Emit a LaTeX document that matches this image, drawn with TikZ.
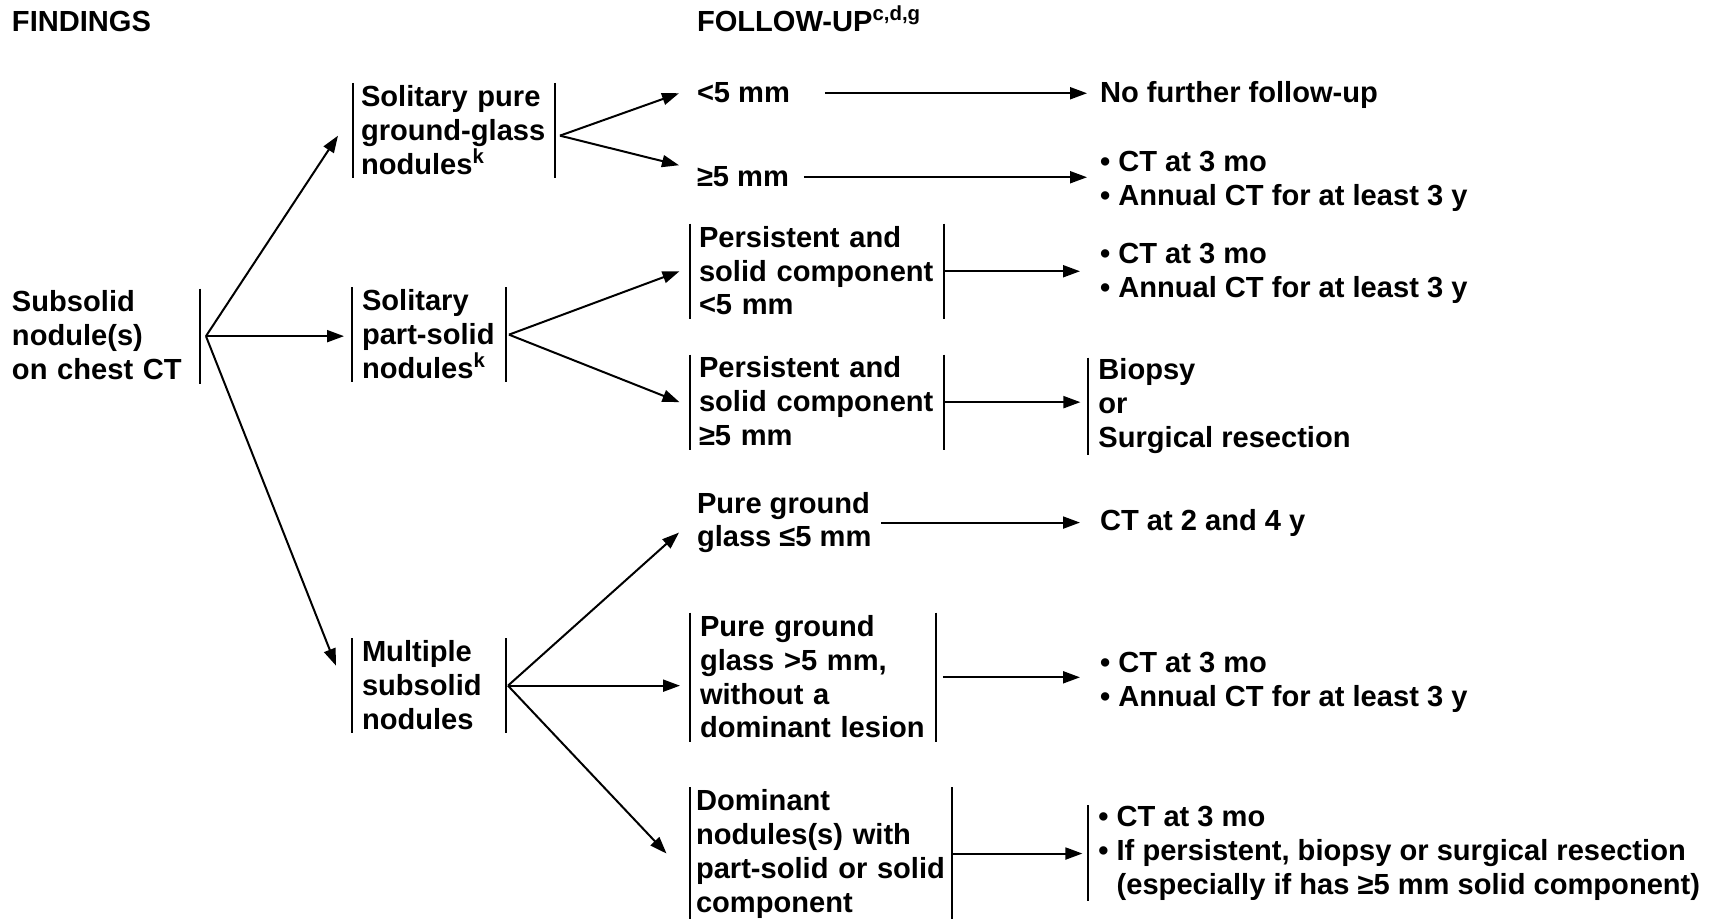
\documentclass[tikz,border=0pt]{standalone}
\usepackage{fontspec}
\setmainfont{Liberation Sans}
\usetikzlibrary{arrows.meta,calc}
\hyphenpenalty=10000
\newcommand\upstrut{\rule{0pt}{0.45cm}}
\newcommand\dnstrut{\rule[-0.06cm]{0pt}{0.06cm}}
\tikzset{
  txt/.style={align=left, anchor=north west, inner xsep=0.18cm, inner ysep=0pt,
    font=\fontsize{16.56pt}{19.3pt}\selectfont\bfseries,
    execute at begin node=\upstrut, execute at end node=\dnstrut},
  lbar/.style={append after command={(\tikzlastnode.north west) edge (\tikzlastnode.south west)}},
  rbar/.style={append after command={(\tikzlastnode.north east) edge (\tikzlastnode.south east)}},
  bars/.style={lbar,rbar},
  arr/.style={-{Triangle[length=0.34cm,width=0.24cm]}},
}
\begin{document}
\begin{tikzpicture}[x=0.02cm, y=-0.02cm, line width=0.04cm]
\useasboundingbox (0,0) rectangle (1710,919);
% column heads
\node[txt, anchor=base west] (find) at (2,32) {FINDINGS};
\node[txt, anchor=base west] (follow) at (687,32) {FOLLOW-UP\textsuperscript{c,d,g}};
% findings
\node[txt, rbar, text width=3.57cm] (sub) at (2,288.5) {Subsolid\\nodule(s)\\on chest CT};
\node[txt, bars, text width=3.72cm, inner xsep=0.14cm] (solpure) at (353,83) {Solitary pure\\ground-glass\\nodules\textsuperscript{k}};
\node[txt, bars, text width=2.68cm] (solpart) at (352,287) {Solitary\\part-solid\\nodules\textsuperscript{k}};
\node[txt, bars, text width=2.68cm] (mult) at (352,638) {Multiple\\subsolid\\nodules};
% sizes
\node[txt] (lt5) at (687,79.5) {<5 mm};
\node[txt] (ge5) at (687,163.5) {≥5 mm};
\node[txt, bars, text width=4.72cm, inner xsep=0.16cm] (pers1) at (690,223.6) {Persistent and\\solid component\\<5 mm};
\node[txt, bars, text width=4.72cm, inner xsep=0.16cm] (pers2) at (690,354.5) {Persistent and\\solid component\\≥5 mm};
\node[txt] (pg1) at (687,491) {Pure ground\\glass ≤5 mm};
\node[txt, bars, text width=4.52cm] (pg2) at (690,612.7) {Pure ground\\glass >5 mm,\\without a\\dominant lesion};
\node[txt, bars, text width=5cm, inner xsep=0.1cm] (dom) at (690,787.4) {Dominant\\nodules(s) with\\part-solid or solid\\component};
% follow-up
\node[txt] (nofu) at (1090,79.5) {No further follow-up};
\node[txt] (ct1) at (1090,150) {• CT at 3 mo\\• Annual CT for at least 3 y};
\node[txt] (ct2) at (1090,242.5) {• CT at 3 mo\\• Annual CT for at least 3 y};
\node[txt, lbar] (biop) at (1088.4,357.7) {Biopsy\\or\\Surgical resection};
\node[txt] (ct24) at (1090,506.5) {CT at 2 and 4 y};
\node[txt] (ct3) at (1090,651.5) {• CT at 3 mo\\• Annual CT for at least 3 y};
\node[txt, lbar] (last) at (1088.4,805) {• CT at 3 mo\\• If persistent, biopsy or surgical resection\\\phantom{• }(especially if has ≥5 mm solid component)};
% forks
\coordinate (f0) at ([xshift=0.11cm]sub.east);
\coordinate (f1) at ([shift={(5,5)}]solpure.east);
\coordinate (f2) at ([xshift=0.06cm]solpart.east);
\coordinate (f3) at ([xshift=0.04cm]mult.east);
% arrows
\draw[arr] (f0) -- ([shift={(-15,5)}]solpure.west);
\draw[arr] (f0) -- ($(f0 -| solpart.west)+(-8,0)$);
\draw[arr] (f0) -- ([shift={(-16,-20)}]mult.west);
\draw[arr] (f1) -- ([xshift=-0.16cm]lt5.west);
\draw[arr] (f1) -- ([shift={(-8,-12)}]ge5.west);
\draw[arr] ([xshift=0.5cm]lt5.east) -- ($(lt5.east -| nofu.west)+(-3,0)$);
\draw[arr] ([xshift=0.1cm]ge5.east) -- ($(ge5.east -| ct1.west)+(-3,0)$);
\draw[arr] (f2) -- ([xshift=-0.21cm]pers1.west);
\draw[arr] (f2) -- ([xshift=-0.21cm]pers2.west);
\draw[arr] (pers1.east) -- ($(pers1.east -| ct2.west)+(-10,0)$);
\draw[arr] (pers2.east) -- ($(pers2.east -| biop.west)+(-8,0)$);
\draw[arr] (f3) -- ([shift={(-8,10)}]pg1.west);
\draw[arr] (f3) -- ($(f3 -| pg2.west)+(-10,0)$);
\draw[arr] (f3) -- ([xshift=-0.47cm]dom.west);
\draw[arr] (pg1.east) -- ($(pg1.east -| ct24.west)+(-10,0)$);
\draw[arr] ([xshift=0.14cm]pg2.east) -- ($(pg2.east -| ct3.west)+(-10,0)$);
\draw[arr] (dom.east) -- ($(dom.east -| last.west)+(-6,0)$);
\end{tikzpicture}
\end{document}
